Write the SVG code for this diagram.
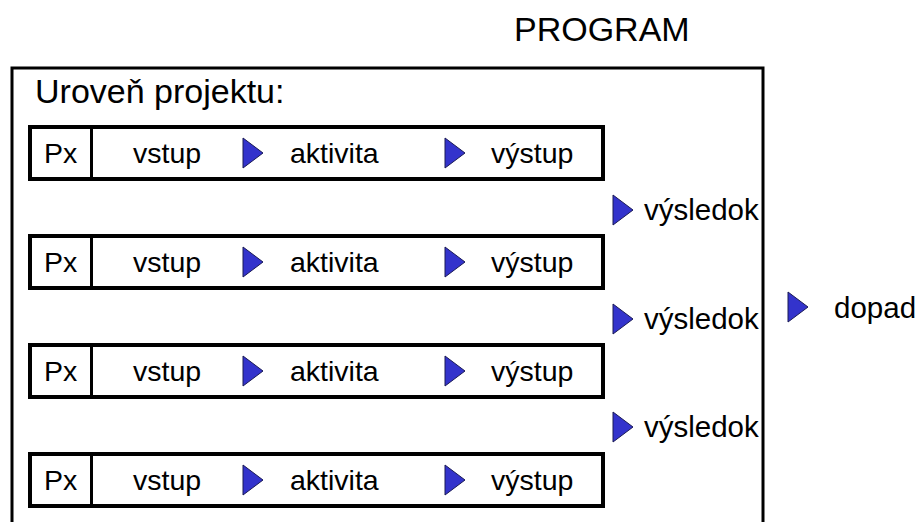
<svg xmlns="http://www.w3.org/2000/svg" width="918" height="522" viewBox="0 0 918 522">
<defs>
<style>
.t{font-family:"Liberation Sans",Arial,sans-serif;fill:#000}
.big{font-size:34px}
.row{font-size:28.5px}
.res{font-size:29.5px}
.frame{fill:none;stroke:#000;stroke-width:3}
.box{fill:#fff;stroke:#000;stroke-width:4}
.div{stroke:#000;stroke-width:3}
.tri{fill:#3333CC;stroke:#1a1a55;stroke-width:1}
</style>
<polygon id="arr" class="tri" points="0,-15 20,0 0,15"/>
</defs>
<rect width="918" height="522" fill="#fff"/>
<g id="title"><text class="t big" x="514" y="41">PROGRAM</text></g>
<g id="program-frame">
<rect class="frame" x="12" y="68" width="751" height="470"/>
<text class="t big" x="35" y="103">Uroveň projektu:</text>
</g>
<g id="project1">
<rect class="box" x="30" y="127" width="573" height="52"/>
<line class="div" x1="91.5" y1="127" x2="91.5" y2="179"/>
<text class="t row" x="44" y="163">Px</text>
<text class="t row" x="133" y="163">vstup</text>
<text class="t row" x="290" y="163">aktivita</text>
<text class="t row" x="491" y="163">výstup</text>
</g>
<g id="project2">
<rect class="box" x="30" y="236" width="573" height="52"/>
<line class="div" x1="91.5" y1="236" x2="91.5" y2="288"/>
<text class="t row" x="44" y="272">Px</text>
<text class="t row" x="133" y="272">vstup</text>
<text class="t row" x="290" y="272">aktivita</text>
<text class="t row" x="491" y="272">výstup</text>
</g>
<g id="project3">
<rect class="box" x="30" y="345" width="573" height="52"/>
<line class="div" x1="91.5" y1="345" x2="91.5" y2="397"/>
<text class="t row" x="44" y="381">Px</text>
<text class="t row" x="133" y="381">vstup</text>
<text class="t row" x="290" y="381">aktivita</text>
<text class="t row" x="491" y="381">výstup</text>
</g>
<g id="project4">
<rect class="box" x="30" y="454" width="573" height="52"/>
<line class="div" x1="91.5" y1="454" x2="91.5" y2="506"/>
<text class="t row" x="44" y="490">Px</text>
<text class="t row" x="133" y="490">vstup</text>
<text class="t row" x="290" y="490">aktivita</text>
<text class="t row" x="491" y="490">výstup</text>
</g>
<g id="result1"><text class="t res" x="644" y="220">výsledok</text></g>
<g id="result2"><text class="t res" x="644" y="329">výsledok</text></g>
<g id="result3"><text class="t res" x="644" y="437">výsledok</text></g>
<g id="impact"><text class="t res" x="834" y="318">dopad</text></g>
<g id="connectors">
<use href="#arr" x="243" y="153"/>
<use href="#arr" x="445" y="153"/>
<use href="#arr" x="243" y="262"/>
<use href="#arr" x="445" y="262"/>
<use href="#arr" x="243" y="371"/>
<use href="#arr" x="445" y="371"/>
<use href="#arr" x="243" y="480"/>
<use href="#arr" x="445" y="480"/>
<use href="#arr" x="613" y="210"/>
<use href="#arr" x="613" y="319"/>
<use href="#arr" x="613" y="427"/>
<use href="#arr" x="788" y="307"/>
</g>
</svg>
